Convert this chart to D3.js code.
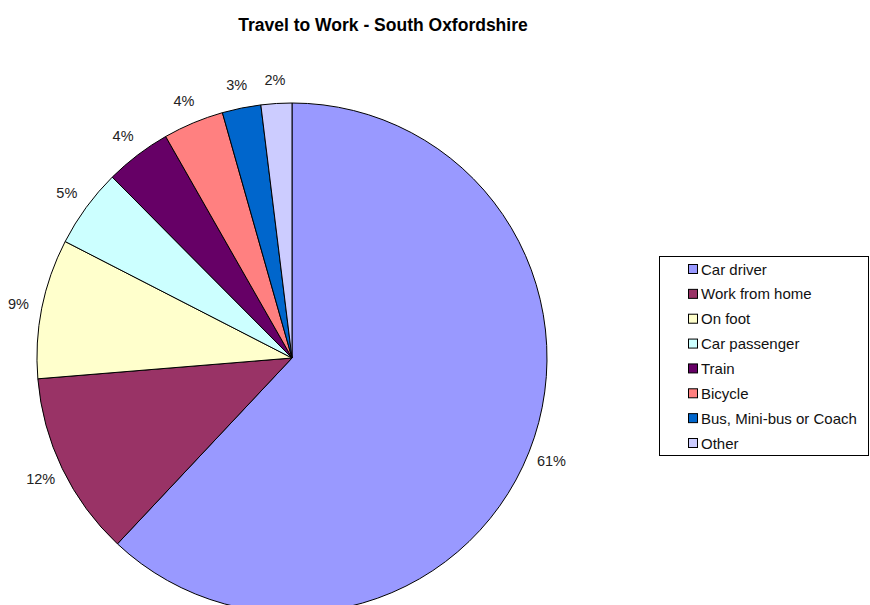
<!DOCTYPE html>
<html>
<head>
<meta charset="utf-8">
<script src="https://cdn.jsdelivr.net/npm/d3@7"></script>
<style>
  body { margin: 0; background: #fff; }
  svg { display: block; font-family: "Liberation Sans", Arial, sans-serif; }
</style>
</head>
<body>
<div id="vis"></div>
<script>
// data (share of slice, in %)
const categories = ["Car driver", "Work from home", "On foot", "Car passenger",
  "Train", "Bicycle", "Bus, Mini-bus or Coach", "Other"];
const values = [62.0, 11.7, 8.85, 5.0, 4.2, 3.85, 2.45, 1.95];
const pctLabels = ["61%", "12%", "9%", "5%", "4%", "4%", "3%", "2%"];
const colors = ["#9999FF", "#993366", "#FFFFCC", "#CCFFFF",
  "#660066", "#FF8080", "#0066CC", "#CCCCFF"];

const width = 870, height = 605;
const cx = 292, cy = 358, radius = 255;

const svg = d3.select("#vis")
  .append("svg")
  .attr("width", width)
  .attr("height", height);

svg.append("text")
  .attr("x", 383)
  .attr("y", 30.5)
  .attr("text-anchor", "middle")
  .style("font-weight", "bold")
  .style("font-size", "17.5px")
  .text("Travel to Work - South Oxfordshire");

const data = categories.map((c, i) => ({ name: c, value: values[i], label: pctLabels[i], color: colors[i] }));

const pie = d3.pie()
  .sort(null)
  .value(d => d.value);

const arc = d3.arc()
  .innerRadius(0)
  .outerRadius(radius);

const labelArc = d3.arc()
  .innerRadius(radius + 24)
  .outerRadius(radius + 24);

const g = svg.append("g")
  .attr("transform", `translate(${cx},${cy})`);

const arcs = pie(data);

g.selectAll("path.slice")
  .data(arcs)
  .join("path")
  .attr("class", "slice")
  .attr("d", arc)
  .attr("fill", d => d.data.color)
  .attr("stroke", "#000")
  .attr("stroke-width", 1)
  .attr("stroke-linejoin", "round");

g.selectAll("text.pct")
  .data(arcs)
  .join("text")
  .attr("class", "pct")
  .attr("transform", d => `translate(${labelArc.centroid(d)})`)
  .attr("text-anchor", "middle")
  .attr("dominant-baseline", "central")
  .style("font-size", "14.5px")
  .style("fill", "#222")
  .text(d => d.data.label);

// legend
const legend = svg.append("g");
legend.append("rect")
  .attr("x", 659.5)
  .attr("y", 256.5)
  .attr("width", 209)
  .attr("height", 199)
  .attr("fill", "#fff")
  .attr("stroke", "#000")
  .attr("stroke-width", 1);

const legendY = d3.scalePoint()
  .domain(categories)
  .range([269, 443]);

const items = legend.selectAll("g.item")
  .data(data)
  .join("g")
  .attr("class", "item")
  .attr("transform", d => `translate(0,${legendY(d.name)})`);

items.append("rect")
  .attr("x", 688.5)
  .attr("y", -4.5)
  .attr("width", 9)
  .attr("height", 9)
  .attr("fill", d => d.color)
  .attr("stroke", "#000")
  .attr("stroke-width", 1);

items.append("text")
  .attr("x", 701)
  .attr("y", 0)
  .attr("dominant-baseline", "central")
  .style("font-size", "15px")
  .style("fill", "#111")
  .text(d => d.name);
</script>
</body>
</html>
